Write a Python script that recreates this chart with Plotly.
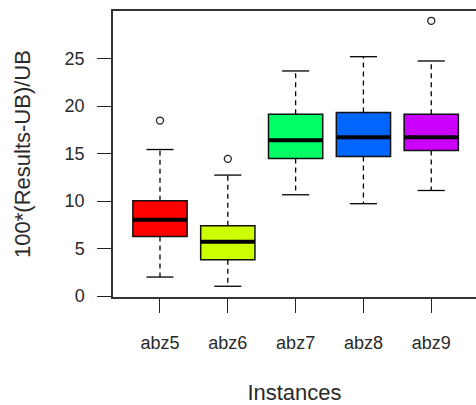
import plotly.graph_objects as go

# Summary statistics per instance (percent gap to upper bound)
instances = ["abz5", "abz6", "abz7", "abz8", "abz9"]
lower_whisker = [2.0, 1.03, 10.66, 9.72, 11.11]
q1 = [6.28, 3.83, 14.48, 14.69, 15.32]
median = [8.04, 5.72, 16.41, 16.72, 16.72]
q3 = [10.03, 7.40, 19.14, 19.31, 19.14]
upper_whisker = [15.42, 12.73, 23.69, 25.19, 24.74]
outlier_instance = ["abz5", "abz6", "abz9"]
outlier_value = [18.47, 14.44, 28.97]
fill_colors = ["#FF0000", "#CCFF00", "#00FF66", "#0066FF", "#CC00FF"]
y_ticks = [0, 5, 10, 15, 20, 25]

BOX_W = 0.8
CAP_W = 0.4
FONT = "Liberation Sans, Arial, sans-serif"
INK = "#2a2a2a"

pos = {name: i + 1 for i, name in enumerate(instances)}

fig = go.Figure()

# Dashed whiskers from the hinges to the extremes
wx, wy = [], []
for name, lo, a, b, hi in zip(instances, lower_whisker, q1, q3, upper_whisker):
    p = pos[name]
    wx += [p, p, None, p, p, None]
    wy += [b, hi, None, a, lo, None]
fig.add_trace(go.Scatter(x=wx, y=wy, mode="lines", hoverinfo="skip",
                         line=dict(color="black", width=1.3, dash="5px,4px"),
                         showlegend=False))

# Solid staples at the whisker ends
cx, cy = [], []
for name, lo, hi in zip(instances, lower_whisker, upper_whisker):
    p = pos[name]
    cx += [p - CAP_W / 2, p + CAP_W / 2, None, p - CAP_W / 2, p + CAP_W / 2, None]
    cy += [hi, hi, None, lo, lo, None]
fig.add_trace(go.Scatter(x=cx, y=cy, mode="lines", hoverinfo="skip",
                         line=dict(color="black", width=1.3), showlegend=False))

# Filled boxes (hinge to hinge)
for name, a, m, b, col in zip(instances, q1, median, q3, fill_colors):
    fig.add_trace(go.Box(
        x=[pos[name]], q1=[a], median=[m], q3=[b],
        lowerfence=[a], upperfence=[b],
        width=BOX_W, whiskerwidth=0, boxpoints=False,
        fillcolor=col, line=dict(color="#111111", width=1.5),
        showlegend=False, name=name,
    ))

# Heavy median bars
mx, my = [], []
for name, m in zip(instances, median):
    p = pos[name]
    mx += [p - BOX_W / 2, p + BOX_W / 2, None]
    my += [m, m, None]
fig.add_trace(go.Scatter(x=mx, y=my, mode="lines", hoverinfo="skip",
                         line=dict(color="black", width=4), showlegend=False))

# Outlying points
fig.add_trace(go.Scatter(
    x=[pos[n] for n in outlier_instance], y=outlier_value, mode="markers",
    marker=dict(symbol="circle-open", size=7, color="#222222", line=dict(width=1.3)),
    showlegend=False,
))

fig.update_layout(
    width=476, height=405,
    margin=dict(l=113, r=0, t=11, b=108),
    paper_bgcolor="white", plot_bgcolor="white",
    font=dict(family=FONT, color=INK, size=18),
    xaxis=dict(
        range=[0.307, 5.66], tickmode="array",
        tickvals=[pos[n] for n in instances], ticktext=instances,
        ticks="outside", ticklen=14, tickwidth=1.3, tickcolor="#222",
        showline=True, mirror=True, linecolor="#333", linewidth=1.5,
        showgrid=False, zeroline=False, automargin=False,
        ticklabelstandoff=15,
        tickfont=dict(size=18),
        title=dict(text="Instances", font=dict(size=22), standoff=33),
    ),
    yaxis=dict(
        range=[-0.1, 30], tickmode="array", tickvals=y_ticks,
        ticks="outside", ticklen=14, tickwidth=1.3, tickcolor="#222",
        showline=True, mirror=False, linecolor="#333", linewidth=1.5,
        showgrid=False, zeroline=False, automargin=False,
        ticklabelstandoff=9,
        tickfont=dict(size=18),
        title=dict(text="100*(Results-UB)/UB", font=dict(size=22), standoff=28),
    ),
)

fig.write_html("out.html")
